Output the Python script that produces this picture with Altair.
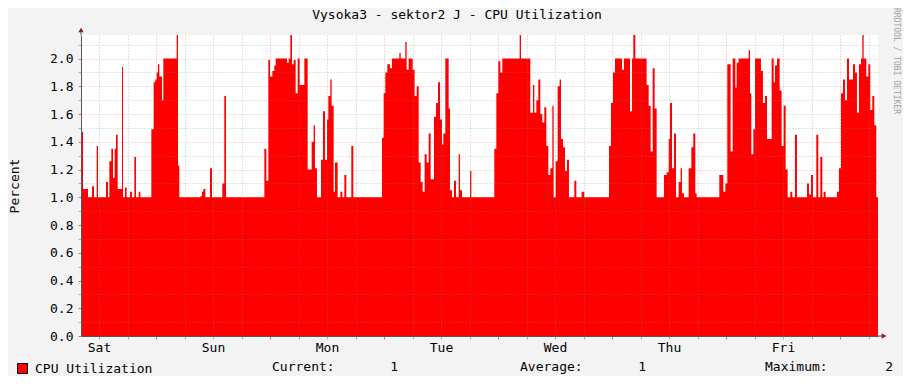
import altair as alt
import pandas as pd

TITLE = "Vysoka3 - sektor2 J - CPU Utilization"
Y_TITLE = "Percent"
SERIES = "CPU Utilization"
DAYS = ["Sat", "Sun", "Mon", "Tue", "Wed", "Thu", "Fri"]
STAT_LABELS = ["Current:", "Average:", "Maximum:"]
STAT_VALUES = [1, 1, 2]
WATERMARK = "RRDTOOL / TOBI OETIKER"

# hours since Saturday 00:00 at which the value changes, and the value from then on
HOURS = [
    8.21, 8.42, 8.63, 9.68, 10.53, 10.95, 11.51, 11.79, 13.47, 13.89,
    14.18, 14.60, 14.95, 15.30, 15.58, 15.93, 16.84, 17.05, 17.47, 17.82,
    18.53, 18.95, 19.44, 19.79, 20.35, 20.70, 23.02, 23.51, 23.86, 24.14,
    24.42, 24.70, 25.26, 25.54, 28.35, 28.63, 28.91, 33.40, 33.68, 33.96,
    34.39, 35.37, 35.79, 37.96, 38.38, 38.74, 46.81, 47.23, 47.65, 48.00,
    48.49, 48.91, 49.19, 51.58, 51.93, 52.28, 52.63, 52.98, 53.40, 53.82,
    54.24, 55.23, 55.93, 56.77, 57.19, 57.47, 57.89, 58.74, 59.16, 59.58,
    60.00, 60.28, 60.70, 60.98, 61.40, 61.68, 62.24, 62.81, 63.23, 63.65,
    64.07, 65.12, 65.54, 71.58, 71.93, 72.28, 72.70, 73.26, 73.68, 75.23,
    75.51, 76.49, 76.77, 77.19, 78.03, 78.45, 78.88, 79.30, 79.72, 80.14,
    80.56, 80.98, 81.40, 81.82, 82.52, 82.95, 83.37, 83.79, 84.21, 84.49,
    84.91, 85.61, 85.89, 86.31, 86.73, 87.16, 87.72, 88.00, 88.42, 90.11,
    90.39, 95.22, 95.65, 96.07, 96.49, 96.91, 100.56, 100.84, 102.80, 103.37,
    103.65, 104.07, 104.49, 104.91, 105.33, 105.75, 106.17, 106.59, 107.01, 107.44,
    107.72, 108.14, 108.56, 108.98, 109.26, 109.68, 110.10, 110.52, 110.94, 112.07,
    112.49, 113.61, 114.17, 119.37, 119.79, 120.21, 120.63, 122.10, 122.52, 123.79,
    124.21, 124.49, 124.91, 127.29, 127.72, 128.14, 128.56, 128.98, 129.40, 130.94,
    131.50, 131.93, 132.21, 132.63, 133.05, 133.47, 134.03, 134.45, 134.73, 135.15,
    136.14, 136.70, 137.12, 137.54, 137.82, 142.59, 143.43, 143.86, 144.28, 144.98,
    145.40, 145.96, 146.24, 146.66, 148.77, 149.05, 149.33, 149.75, 150.10, 151.36,
    151.78, 152.21, 152.63, 153.61, 154.03, 154.31, 154.73, 155.29, 155.71, 156.14,
    156.56, 156.98, 157.54, 157.96, 158.52, 158.94, 161.05, 161.47, 161.89, 162.31,
    163.01, 163.43, 163.85, 164.28, 164.56, 164.98, 167.36, 167.78, 168.21, 168.63,
    169.05, 169.47, 169.89, 170.73, 171.15, 171.57, 171.99, 172.42, 172.70, 172.98,
    173.54, 173.96, 174.38, 174.80, 175.22, 175.64, 176.00,
]
VALUES = [
    1.00, 1.47, 1.06, 1.00, 1.08, 1.00, 1.37, 1.00, 1.11, 1.00,
    1.26, 1.35, 1.14, 1.35, 1.45, 1.06, 1.94, 1.00, 1.07, 1.00,
    1.04, 1.00, 1.29, 1.00, 1.04, 1.00, 1.49, 1.83, 1.85, 1.90,
    1.96, 1.87, 1.70, 2.00, 2.17, 1.23, 1.00, 1.01, 1.04, 1.06,
    1.00, 1.21, 1.00, 1.10, 1.73, 1.00, 1.35, 1.12, 1.99, 1.87,
    1.91, 1.95, 2.00, 1.97, 2.00, 2.17, 1.96, 1.99, 1.75, 2.00,
    1.81, 2.00, 1.20, 1.40, 1.52, 1.21, 1.00, 1.27, 1.62, 1.27,
    1.56, 1.73, 1.85, 1.66, 1.04, 1.25, 1.00, 1.04, 1.00, 1.16,
    1.00, 1.37, 1.00, 1.43, 1.75, 1.90, 1.96, 1.93, 2.00, 2.04,
    2.00, 2.12, 1.92, 2.00, 1.92, 1.73, 1.80, 1.25, 1.11, 1.04,
    1.31, 1.25, 1.46, 1.13, 1.58, 1.68, 1.83, 1.56, 1.38, 1.46,
    2.00, 1.64, 1.05, 1.00, 1.12, 1.00, 1.31, 1.05, 1.00, 1.19,
    1.00, 1.35, 1.75, 1.98, 1.90, 2.00, 2.17, 2.00, 1.61, 1.81,
    1.61, 1.70, 1.85, 1.60, 1.54, 1.65, 1.37, 1.16, 1.21, 1.66,
    1.00, 1.26, 1.80, 1.85, 1.42, 1.36, 1.19, 1.27, 1.00, 1.12,
    1.00, 1.04, 1.00, 1.37, 1.68, 1.90, 2.00, 1.92, 2.00, 1.62,
    2.00, 2.17, 2.00, 1.81, 1.66, 1.33, 1.93, 1.64, 1.00, 1.16,
    1.18, 1.42, 1.68, 1.21, 1.46, 1.00, 1.11, 1.21, 1.03, 1.00,
    1.21, 1.36, 1.46, 1.03, 1.00, 1.16, 1.04, 1.10, 1.96, 1.33,
    2.00, 1.79, 1.97, 2.00, 2.06, 1.75, 1.31, 1.49, 2.00, 1.91,
    1.68, 1.73, 1.42, 2.00, 1.83, 1.95, 2.00, 1.77, 1.37, 1.66,
    1.20, 1.00, 1.04, 1.00, 1.45, 1.00, 1.10, 1.02, 1.16, 1.00,
    1.45, 1.00, 1.29, 1.00, 1.04, 1.00, 1.04, 1.21, 1.75, 1.85,
    1.70, 2.00, 1.85, 1.96, 1.90, 1.61, 1.96, 2.00, 2.17, 2.00,
    1.87, 1.96, 1.63, 1.73, 1.52, 1.00, 1.00,
]

FONT = "DejaVu Sans Mono"
W, H = 797, 301
X_DOMAIN = [8.21, 176.0]
Y_DOMAIN = [0, 2.17]
GRID_HOURS = list(range(12, 176, 6))
Y_TICKS = [round(i * 0.1, 1) for i in range(22)]

df = pd.DataFrame({"hour": HOURS, "value": VALUES, "series": SERIES})
one = pd.DataFrame({"k": [0]})

day_arr = "[" + ",".join(f"'{d}'" for d in DAYS) + "]"
major_x = "datum.value % 24 == 0"
major_y = "round(datum.value * 10) % 2 == 0"

x_axis = alt.Axis(
    values=GRID_HOURS,
    labelExpr=f"datum.value % 24 == 12 ? {day_arr}[floor(datum.value / 24)] : ''",
    labelOverlap=False,
    labelFlush=False,
    labelFont=FONT,
    labelFontSize=13,
    labelColor="#000000",
    labelPadding=2,
    grid=True,
    gridColor={"condition": {"test": major_x, "value": "rgba(255,0,0,0.35)"},
               "value": "rgba(130,130,130,0.45)"},
    gridDash=[1, 2],
    tickColor={"condition": {"test": major_x, "value": "rgba(255,0,0,0.6)"},
               "value": "rgba(130,130,130,0.6)"},
    tickSize=3,
    domainColor="#555555",
    title=None,
    zindex=1,
)

y_axis = alt.Axis(
    values=Y_TICKS,
    labelExpr=f"{major_y} ? format(datum.value, '.1f') : ''",
    labelFont=FONT,
    labelFontSize=13,
    labelColor="#000000",
    labelPadding=5,
    grid=True,
    gridColor={"condition": {"test": major_y, "value": "rgba(255,0,0,0.3)"},
               "value": "rgba(130,130,130,0.45)"},
    gridDash=[1, 2],
    tickColor={"condition": {"test": major_y, "value": "rgba(255,0,0,0.6)"},
               "value": "rgba(130,130,130,0.6)"},
    tickSize=3,
    domainColor="#555555",
    title=Y_TITLE,
    titleFont=FONT,
    titleFontSize=13,
    titleFontWeight="normal",
    titleColor="#000000",
    titleX=-67,
    titleY=H / 2,
    titleAngle=270,
    titleAlign="center",
    titleBaseline="middle",
    zindex=1,
)

area = alt.Chart(df).mark_area(interpolate="step-after", opacity=1, clip=True).encode(
    x=alt.X("hour:Q", scale=alt.Scale(domain=X_DOMAIN, nice=False, zero=False), axis=x_axis),
    y=alt.Y("value:Q", scale=alt.Scale(domain=Y_DOMAIN, nice=False), axis=y_axis),
    color=alt.Color(
        "series:N",
        scale=alt.Scale(domain=[SERIES], range=["#FF0000"]),
        legend=alt.Legend(
            orient="none", legendX=-65, legendY=327, title=None, padding=0,
            symbolType="square", symbolSize=100, symbolStrokeColor="#000000",
            symbolStrokeWidth=1, symbolOpacity=1, labelOffset=6,
            labelFont=FONT, labelFontSize=13, labelColor="#000000",
        ),
    ),
)

# axis arrows (decoration)
y_ext = alt.Chart(one).mark_rule(color="#555555").encode(
    x=alt.value(0), y=alt.value(-4), y2=alt.value(0))
x_ext = alt.Chart(one).mark_rule(color="#555555").encode(
    x=alt.value(W), x2=alt.value(W + 5), y=alt.value(H))
y_arrow = alt.Chart(one).mark_point(shape="triangle-up", filled=True, color="#8B1A1A",
                                    size=28, opacity=1).encode(x=alt.value(0), y=alt.value(-5))
x_arrow = alt.Chart(one).mark_point(shape="triangle-right", filled=True, color="#8B1A1A",
                                    size=28, opacity=1).encode(x=alt.value(W + 6), y=alt.value(H))

title_mark = alt.Chart(pd.DataFrame({"t": [TITLE]})).mark_text(
    font=FONT, fontSize=13, color="#000000", align="center", baseline="middle"
).encode(x=alt.value(376), y=alt.value(-20), text="t:N")

stat_df = pd.DataFrame({"label": STAT_LABELS, "value": [str(v) for v in STAT_VALUES],
                        "lx": [191, 439, 684], "vx": [317, 565, 812]})
stat_layers = []
for i in range(len(STAT_LABELS)):
    row = stat_df.iloc[[i]]
    stat_layers.append(
        alt.Chart(row).mark_text(font=FONT, fontSize=13, color="#000000", align="left",
                                 baseline="middle").encode(
            x=alt.value(float(row["lx"].iloc[0])), y=alt.value(332), text="label:N"))
    stat_layers.append(
        alt.Chart(row).mark_text(font=FONT, fontSize=13, color="#000000", align="right",
                                 baseline="middle").encode(
            x=alt.value(float(row["vx"].iloc[0])), y=alt.value(332), text="value:N"))

wm = alt.Chart(pd.DataFrame({"t": [WATERMARK]})).mark_text(
    font=FONT, fontSize=8, color="#A0A0A0", angle=90, align="center", baseline="middle"
).encode(x=alt.value(815), y=alt.value(26), text="t:N")

chart = alt.layer(area, y_ext, x_ext, y_arrow, x_arrow, title_mark, wm, *stat_layers).properties(
    width=W,
    height=H,
    autosize="none",
    padding={"left": 73, "top": 27, "right": 25, "bottom": 40},
    background="#F3F3F3",
).configure_view(fill="#FFFFFF", stroke=None)

chart.save("out.html", embed_options={"renderer": "svg", "actions": False})
